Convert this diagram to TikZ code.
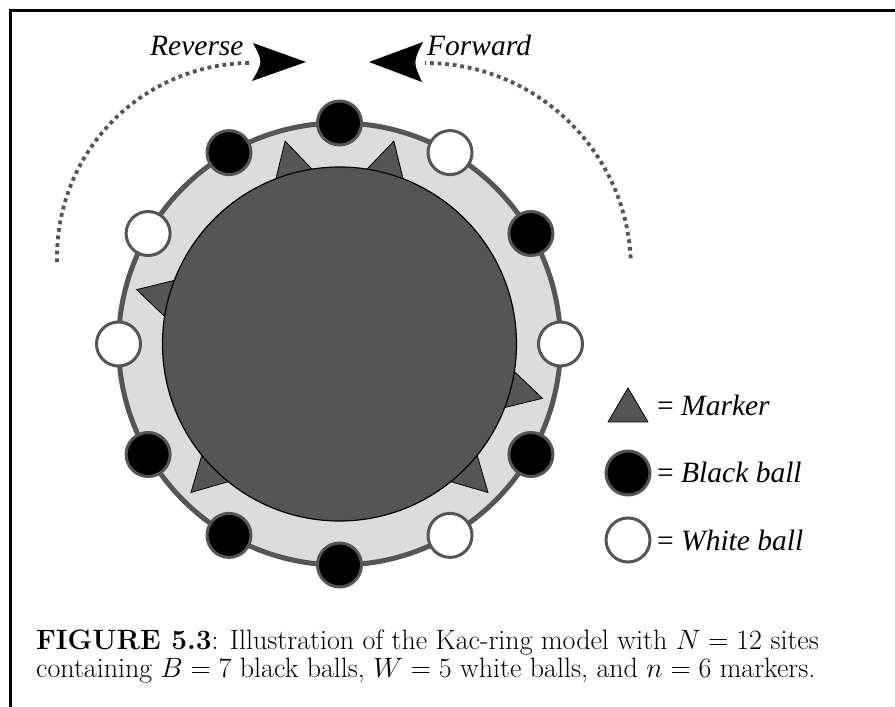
\RequirePackage{fix-cm}
\documentclass[tikz,border=0pt]{standalone}
\usepackage{fontspec}
\newfontfamily\tnr{Liberation Serif}[ItalicFont={Liberation Serif Italic}]
\usetikzlibrary{calc}
\definecolor{ringgrey}{HTML}{DCDCDC}
\definecolor{dark}{HTML}{555555}
\begin{document}
\begin{tikzpicture}[x=1pt,y=1pt,
  ball/.style={circle, draw=dark, line width=3pt, minimum size=44pt, inner sep=0pt},
  blackball/.style={ball, fill=black},
  whiteball/.style={ball, fill=white},
  marker/.style={fill=dark, draw=black, line width=0.8pt, line join=miter},
  label/.style={font=\tnr\itshape\fontsize{29.5}{32}\selectfont, inner sep=0pt, anchor=base west},
  legendtext/.style={font=\tnr\fontsize{29.5}{32}\selectfont, inner sep=0pt, anchor=base west},
  captext/.style={font=\fontsize{28}{28}\selectfont, inner sep=0pt, anchor=base west},
  motion/.style={draw=dark, line width=3.8pt, dash pattern=on 3.8pt off 3.8pt},
]
\useasboundingbox (0,0) rectangle (895,707);

% frame along the top and the left
\draw[line width=2.7pt] (10.3,0) -- (10.3,696.3) -- (895,696.3);

% ring centre
\coordinate (c) at (339.5,363);

% outer ring with its track
\node[circle, draw=dark, fill=ringgrey, line width=5pt, minimum size=442pt, inner sep=0pt] (ring) at (c) {};

% markers between sites (pointing outwards)
\foreach \a in {105,75,165,225,-15,-45}{
  \begin{scope}[shift={(c)}, rotate=\a]
    \path[marker] (210,0) -- (170,22) -- (170,-22) -- cycle;
  \end{scope}
}

% central disc
\node[circle, fill=dark, draw=black, line width=1.2pt, minimum size=354pt, inner sep=0pt] (core) at (c) {};

% balls on the twelve sites
\foreach \a/\s in {90/blackball,60/whiteball,30/blackball,0/whiteball,-30/blackball,-60/whiteball,
                   -90/blackball,-120/blackball,-150/blackball,180/whiteball,150/whiteball,120/blackball}{
  \node[\s] (site\a) at ($(c)+(\a:221)$) {};
}

% direction arcs
\coordinate (lc) at (251,450);
\coordinate (rc) at (425,438);
\coordinate (revstart) at ($(lc)+(181.5:194)$);
\coordinate (fwdstart) at ($(rc)+(3:206)$);
\draw[motion] (revstart) arc[start angle=181.5, end angle=90, radius=194];
\draw[motion] (fwdstart) arc[start angle=3, end angle=90, radius=206];

% arrow heads
\fill (306,645) -- (253,664) .. controls (263,645) .. (252,626) -- cycle;
\fill (369,645) -- (423,665) .. controls (413,645) .. (422,625) -- cycle;

\node[label] (rev) at (150,651) {Reverse};
\node[label] (fwd) at (427,651) {Forward};

% legend
\path[marker] (628,319) -- (608,285) -- (648,285) -- cycle;
\node[blackball] (lgb) at (628,234) {};
\node[whiteball] (lgw) at (628,167) {};
\node[legendtext] (tm) at (657,291) {= \textit{Marker}};
\node[legendtext] (tb) at (657,224) {= \textit{Black ball}};
\node[legendtext] (tw) at (657,156) {= \textit{White ball}};

% caption
\node[captext] (cap1) at (36,57) {\textbf{FIGURE 5.3}: Illustration of the Kac-ring model with $N = 12$ sites};
\node[captext] (cap2) at (36,29) {containing $B = 7$ black balls, $W = 5$ white balls, and $n = 6$ markers.};
\end{tikzpicture}
\end{document}
